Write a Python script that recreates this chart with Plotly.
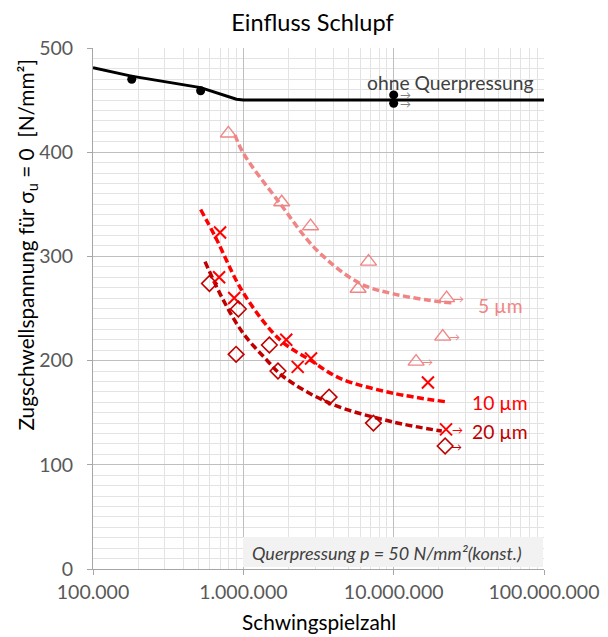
import numpy as np
import plotly.graph_objects as go

# --- Data -------------------------------------------------------------
# ohne Querpressung
ref_n = [1.81e5, 5.2e5, 1e7, 1e7]
ref_s = [470, 459, 455, 447]
ref_runout = [False, False, True, True]
ref_line_n = [1e5, 1.8e5, 5.2e5, 7.9e5, 9e5, 1e6, 1e8]
ref_line_s = [481, 473, 462, 453.5, 450.8, 450, 450]

# 5 µm Schlupf
s5_n = [7.95e5, 1.8e6, 2.8e6, 6.8e6, 5.8e6, 2.25e7, 2.12e7, 1.41e7]
s5_s = [418, 352, 329, 295, 269, 260, 223, 199]
s5_runout = [False, False, False, False, False, True, True, True]
s5_fit_n = [8.8e5, 1e6, 1.75e6, 3.08e6, 5.98e6, 1e7, 2.04e7, 2.5e7]
s5_fit_s = [416.5, 399, 351, 306, 274, 264, 256.5, 255.5]

# 10 µm Schlupf
s10_n = [7.0e5, 6.9e5, 8.7e5, 1.93e6, 2.3e6, 2.82e6, 1.69e7, 2.23e7]
s10_s = [323, 280, 260, 220, 194, 202, 179, 134]
s10_runout = [False, False, False, False, False, False, False, True]
s10_fit_n = [5.2e5, 6.5e5, 1e6, 1.75e6, 2.78e6, 4.4e6, 1e7, 2.2e7]
s10_fit_s = [345, 319, 265, 220, 200.6, 183, 168.6, 160.6]

# 20 µm Schlupf
s20_n = [5.95e5, 9.27e5, 8.95e5, 1.49e6, 1.7e6, 3.72e6, 7.33e6, 2.2e7]
s20_s = [274, 249.5, 206, 215, 190, 165, 140, 118]
s20_runout = [False, False, False, False, False, False, False, True]
s20_fit_n = [5.56e5, 7.36e5, 1e6, 1.43e6, 1.85e6, 3.77e6, 1e7, 2.09e7]
s20_fit_s = [295, 258, 226, 200.6, 184.5, 159, 141, 132.4]

x_ticks = [1e5, 1e6, 1e7, 1e8]
x_ticktext = ["100.000", "1.000.000", "10.000.000", "100.000.000"]
y_ticks = [0, 100, 200, 300, 400, 500]

FONT = "Lato"
C_REF = "#000000"
C5 = "#f08585"
C10 = "#ff0000"
C20 = "#c00000"

# plot area in pixels (left, right, top, bottom)
PL, PR, PT, PB = 93, 544, 48, 569
W, H = 608, 637


def px_x(px):
    return (px - PL) / (PR - PL)


def px_y(py):
    return (PB - py) / (PB - PT)


fig = go.Figure()

# trend / Wöhler lines
fig.add_trace(go.Scatter(x=ref_line_n, y=ref_line_s, mode="lines",
                         line=dict(color=C_REF, width=3),
                         hoverinfo="skip", showlegend=False))
for fn, fs, col in [(s5_fit_n, s5_fit_s, C5), (s10_fit_n, s10_fit_s, C10), (s20_fit_n, s20_fit_s, C20)]:
    fig.add_trace(go.Scatter(x=fn, y=fs, mode="lines",
                             line=dict(color=col, width=3.5, dash="7px,3.5px", shape="spline", smoothing=1.0),
                             hoverinfo="skip", showlegend=False))

# test points
fig.add_trace(go.Scatter(x=ref_n, y=ref_s, mode="markers",
                         marker=dict(symbol="circle", size=9, color=C_REF),
                         name="ohne Querpressung", showlegend=False))
fig.add_trace(go.Scatter(x=s5_n, y=s5_s, mode="markers",
                         marker=dict(symbol="triangle-up-open", size=14, color=C5, line=dict(width=1.4, color=C5)),
                         name="5 µm", showlegend=False))
fig.add_trace(go.Scatter(x=s10_n, y=s10_s, mode="markers",
                         marker=dict(symbol="x-thin-open", size=12, color=C10, line=dict(width=2, color=C10)),
                         name="10 µm", showlegend=False))
fig.add_trace(go.Scatter(x=s20_n, y=s20_s, mode="markers",
                         marker=dict(symbol="diamond-open", size=12, color=C20, line=dict(width=1.6, color=C20)),
                         name="20 µm", showlegend=False))

annotations = []

# runout arrows (Durchläufer)
for ns, ss, rs, col in [(ref_n, ref_s, ref_runout, "#7f7f7f"), (s5_n, s5_s, s5_runout, C5),
                        (s10_n, s10_s, s10_runout, C10), (s20_n, s20_s, s20_runout, C20)]:
    for n, s, r in zip(ns, ss, rs):
        if r:
            annotations.append(dict(x=np.log10(n), y=s, xref="x", yref="y", text="→",
                                    showarrow=False, xanchor="left", xshift=4,
                                    font=dict(family=FONT, size=11, color=col)))

LBL = 19.3
annotations += [
    # series labels
    dict(x=np.log10(8.8e7), y=467, text="ohne Querpressung", showarrow=False, xanchor="right",
         font=dict(family=FONT, size=LBL, color="#404040")),
    dict(x=np.log10(3.52e7), y=253, text="5 µm", showarrow=False, xanchor="left",
         font=dict(family=FONT, size=LBL, color=C5)),
    dict(x=np.log10(3.22e7), y=160, text="10 µm", showarrow=False, xanchor="left",
         font=dict(family=FONT, size=LBL, color=C10)),
    dict(x=np.log10(3.22e7), y=131.5, text="20 µm", showarrow=False, xanchor="left",
         font=dict(family=FONT, size=LBL, color=C20)),
    # test condition box text
    dict(x=px_x(386.5), y=px_y(553), xref="paper", yref="paper",
         text="<i>Querpressung p = 50 N/mm²(konst.)</i>", showarrow=False,
         xanchor="center", yanchor="middle",
         font=dict(family=FONT, size=18, color="#404040")),
    # axis titles
    dict(x=px_x(318.5), y=px_y(621), xref="paper", yref="paper",
         text="Schwingspielzahl", showarrow=False, xanchor="center", yanchor="middle",
         font=dict(family=FONT, size=20.8, color="#000000")),
    dict(x=px_x(26.5), y=px_y(245), xref="paper", yref="paper", textangle=-90,
         text="Zugschwellspannung für σ<sub>u</sub> = 0  [N/mm²]", showarrow=False,
         xanchor="center", yanchor="middle",
         font=dict(family=FONT, size=20.8, color="#000000")),
]

fig.update_layout(
    width=W, height=H,
    margin=dict(l=PL, r=W - PR, t=PT, b=H - PB),
    paper_bgcolor="white", plot_bgcolor="white",
    font=dict(family=FONT, size=19.5, color="#595959"),
    title=dict(text="Einfluss Schlupf", x=312.5 / W, xanchor="center",
               y=1 - 23 / H, yanchor="middle",
               font=dict(family=FONT, size=23.5, color="#000000")),
    annotations=annotations,
    shapes=[dict(type="rect", xref="paper", yref="paper",
                 x0=px_x(243), x1=px_x(543),
                 y0=px_y(567), y1=px_y(537),
                 fillcolor="#f2f2f2", line=dict(width=0), layer="above")],
)

minor_x = [k * 10 ** e for e in (5, 6, 7) for k in range(2, 10)]
fig.update_xaxes(
    type="log", range=[5, 8], automargin=False,
    tickvals=x_ticks, ticktext=x_ticktext,
    ticks="outside", ticklen=5, tickcolor="#a6a6a6",
    ticklabelstandoff=1,
    showgrid=True, gridcolor="#bfbfbf", gridwidth=1,
    minor=dict(tickvals=minor_x, showgrid=True, gridcolor="#e3e3e3", ticks=""),
    showline=True, linecolor="#a6a6a6", linewidth=1,
    tickfont=dict(family=FONT, size=19.5, color="#595959"),
    zeroline=False,
)
fig.update_yaxes(
    range=[0, 500], tickvals=y_ticks, automargin=False,
    ticks="outside", ticklen=5, tickcolor="#a6a6a6",
    ticklabelstandoff=10,
    showgrid=True, gridcolor="#bfbfbf", gridwidth=1,
    minor=dict(dtick=10, showgrid=True, gridcolor="#e3e3e3", ticks=""),
    showline=True, linecolor="#a6a6a6", linewidth=1,
    tickfont=dict(family=FONT, size=19.5, color="#595959"),
    zeroline=False,
)

fig.write_html("out.html")
